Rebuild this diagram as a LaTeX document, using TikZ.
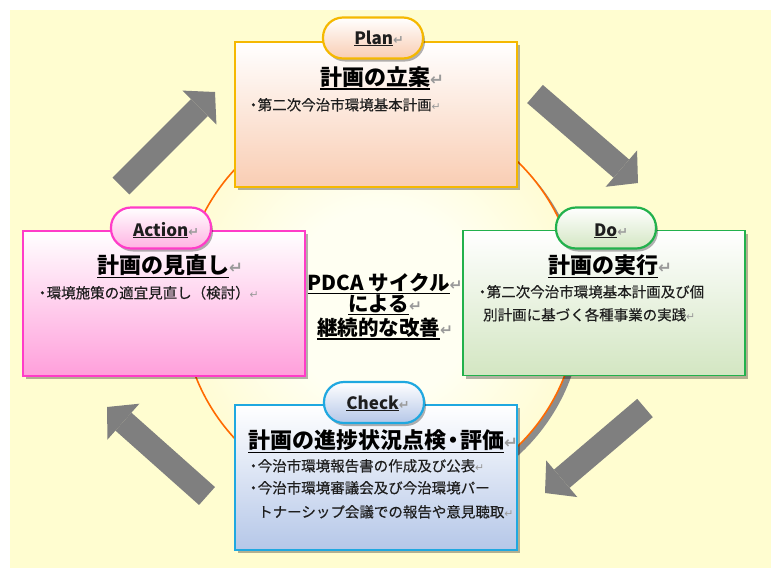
\documentclass[tikz,border=0pt]{standalone}
\usepackage{fontspec}
\usepackage{graphicx}
\setmainfont{Noto Sans CJK JP}
\newfontfamily\bodyfont{Noto Sans CJK JP}[FakeBold=0.35]
\newfontfamily\symfont{DejaVu Sans}
\usetikzlibrary{arrows.meta,shadows}
\definecolor{bgy}{HTML}{FFFDD0}
\definecolor{circo}{HTML}{FF6A00}
\definecolor{circin}{HTML}{FFFFF2}
\definecolor{circout}{HTML}{FFF69C}
\definecolor{arrg}{HTML}{7F7F7F}
\definecolor{planb}{HTML}{F5B800}
\definecolor{planf}{HTML}{F9CDB3}
\definecolor{dob}{HTML}{22B14C}
\definecolor{dof}{HTML}{D3E6C2}
\definecolor{actb}{HTML}{FF3CC8}
\definecolor{actf}{HTML}{FF9FDB}
\definecolor{chkb}{HTML}{1FA8E0}
\definecolor{chkf}{HTML}{B5C7E8}
\definecolor{retg}{HTML}{9A9A9A}
\definecolor{txt}{HTML}{1E1E1E}
\pgfdeclareradialshading{circsh}{\pgfpoint{0bp}{0bp}}{color(0bp)=(circin); color(12bp)=(circin); color(50bp)=(circout)}
\newcommand\uln[2][1.4pt]{\vtop{\hbox{#2}\kern1pt\hrule height #1}}
\newcommand\retmark{{\symfont\color{retg}\scalebox{0.75}{↵}}}
\newcommand\bul{・\kern-3pt}
\tikzset{
  box/.style={draw=#1, line width=1.6pt, minimum width=282pt, minimum height=145pt, inner sep=0pt,
    drop shadow={shadow xshift=3pt, shadow yshift=-3pt, fill=black, opacity=0.3}},
  pill/.style={draw=#1, line width=2.2pt, minimum width=100pt, minimum height=41pt, rounded corners=20pt, inner sep=0pt,
    drop shadow={shadow xshift=2pt, shadow yshift=-3pt, fill=black, opacity=0.3}},
  pilltext/.style={font=\fontsize{17}{20}\selectfont\bfseries, text=txt, inner sep=0pt, anchor=base},
  titletext/.style={font=\fontsize{22}{26}\selectfont\bfseries, text=black, inner sep=0pt, anchor=base},
  bodytext/.style={font=\bodyfont\fontsize{14.5}{17}\selectfont, text=txt, inner sep=0pt, anchor=base west},
  centertext/.style={font=\fontsize{20.5}{25}\selectfont\bfseries, text=black, inner sep=0pt, anchor=base},
  bigarrow/.style={draw=arrg, line width=24pt, -{Triangle[length=22pt, width=48pt, line width=0pt]}}
}
\begin{document}
\begin{tikzpicture}[x=1pt,y=-1pt]
\useasboundingbox (0,0) rectangle (777,574);
\fill[bgy] (10,10) rectangle (771,568);
% central circle
\fill[black!45] (385,309) circle (198pt);
\shade[shading=circsh] (380,304) circle (198pt);
\draw[circo, line width=1.6pt] (380,304) circle (198pt);
% cycle arrows
\coordinate (a1s) at (121,186); \coordinate (a1e) at (215,92);
\coordinate (a2s) at (535,94);  \coordinate (a2e) at (638,183);
\coordinate (a3s) at (645,408); \coordinate (a3e) at (545,493);
\coordinate (a4s) at (207,496); \coordinate (a4e) at (107,407);
\draw[bigarrow] (a1s) -- (a1e);
\draw[bigarrow] (a2s) -- (a2e);
\draw[bigarrow] (a3s) -- (a3e);
\draw[bigarrow] (a4s) -- (a4e);
% boxes
\node[box=planb, top color=white, bottom color=planf] (plan) at (376,114.5) {};
\node[box=dob, top color=white, bottom color=dof] (do) at (604,303) {};
\node[box=actb, top color=white, bottom color=actf] (act) at (164,303.5) {};
\node[box=chkb, top color=white, bottom color=chkf] (chk) at (376,477.5) {};
% pills
\node[pill=planb, top color=white, bottom color=planf] (planp) at (373,38) {};
\node[pill=dob, top color=white, bottom color=dof] (dop) at (606,228) {};
\node[pill=actb, top color=white, bottom color=actf!80] (actp) at (161,228) {};
\node[pill=chkb, top color=white, bottom color=chkf] (chkp) at (374,402.5) {};
\node[pilltext] (planpt) at (379,44) {\uln[1pt]{Plan}\retmark};
\node[pilltext] (dopt) at (611,236) {\uln[1pt]{Do}\retmark};
\node[pilltext] (actpt) at (166,236) {\uln[1pt]{Action}\retmark};
\node[pilltext] (chkpt) at (378,409) {\uln[1pt]{Check}\retmark};
% titles
\node[titletext] (plant) at (382,85.4) {\uln{計画の立案}\retmark};
\node[titletext] (dot) at (610,273.4) {\uln{計画の実行}\retmark};
\node[titletext] (actt) at (170,273.4) {\uln{計画の見直し}\retmark};
\node[titletext] (chkt) at (383,448.4) {\uln{計画の進捗状況点検\kern-4pt・\kern-4pt評価}\retmark};
% body texts
\node[bodytext] (planl1) at (246,110.3) {\bul 第二次今治市環境基本計画\retmark};
\node[bodytext] (dol1) at (475,297.3) {\bul 第二次今治市環境基本計画及び個};
\node[bodytext] (dol2) at (483,320.3) {別計画に基づく各種事業の実践\retmark};
\node[bodytext] (actl1) at (35,298.3) {\bul 環境施策の適宜見直し（検討）\retmark};
\node[bodytext] (chkl1) at (246,471.3) {\bul 今治市環境報告書の作成及び公表\retmark};
\node[bodytext] (chkl2) at (246,493.3) {\bul 今治市環境審議会及び今治環境パー};
\node[bodytext] (chkl3) at (258,517.3) {トナーシップ会議での報告や意見聴取\retmark};
% center text
\node[centertext] (c1) at (385,290.4) {\uln{PDCA サイクル}\retmark};
\node[centertext] (c2) at (385,311.4) {\uln{による}\retmark};
\node[centertext] (c3) at (385,335.4) {\uln{継続的な改善}\retmark};
\end{tikzpicture}
\end{document}
